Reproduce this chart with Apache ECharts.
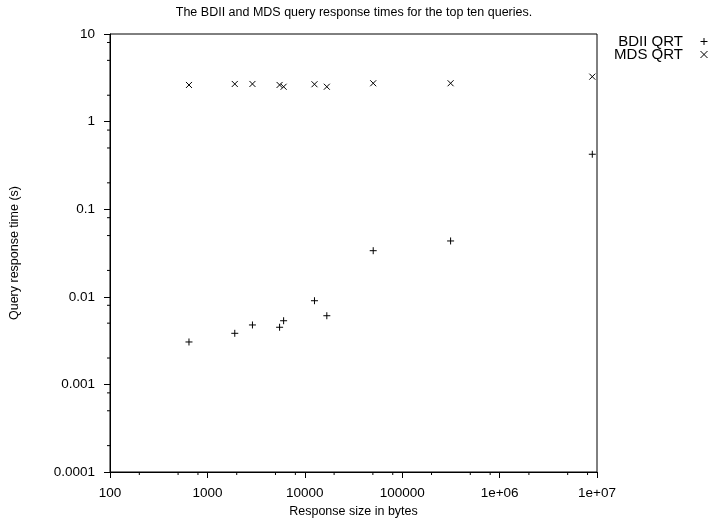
<!DOCTYPE html>
<html>
<head>
<meta charset="utf-8">
<script src="https://cdn.jsdelivr.net/npm/echarts@6/dist/echarts.min.js"></script>
<style>html,body{margin:0;padding:0;background:#fff}#c{width:719px;height:527px}</style>
</head>
<body>
<div id="c"></div>
<script>
// Data
const sizes = [647, 1910, 2900, 5510, 6060, 12570, 16830, 50400, 314000, 8950000];
const bdiiQRT = [0.00305, 0.00383, 0.00477, 0.00449, 0.00533, 0.00902, 0.00608, 0.0336, 0.0434, 0.424];
const mdsQRT = [2.62, 2.69, 2.69, 2.62, 2.50, 2.67, 2.50, 2.74, 2.74, 3.26];
const xTickLabels = {100: '100', 1000: '1000', 10000: '10000', 100000: '100000', 1000000: '1e+06', 10000000: '1e+07'};
const yTickLabels = {0.0001: '0.0001', 0.001: '0.001', 0.01: '0.01', 0.1: '0.1', 1: '1', 10: '10'};
const xMinorTicks = [200, 500, 800, 2000, 5000, 8000, 20000, 50000, 80000, 200000, 500000, 800000, 2000000, 5000000, 8000000];
const yMinorTicks = [0.0002, 0.0005, 0.0008, 0.002, 0.005, 0.008, 0.02, 0.05, 0.08, 0.2, 0.5, 0.8, 2, 5, 8];

const FONT = 'Liberation Sans';
const fmt = (map) => (v) => {
  for (const k in map) { if (Math.abs(Math.log10(v) - Math.log10(+k)) < 1e-6) return map[k]; }
  return '';
};

const chart = echarts.init(document.getElementById('c'), null, {renderer: 'canvas'});
chart.setOption({
  animation: false,
  backgroundColor: '#fff',
  textStyle: {fontFamily: FONT, color: '#000'},
  title: {
    text: 'The BDII and MDS query response times for the top ten queries.',
    left: 349, top: 1, textAlign: 'center',
    textStyle: {fontFamily: FONT, fontSize: 12.5, fontWeight: 'normal', color: '#000'}
  },
  legend: {
    orient: 'vertical', right: 6, top: 29, align: 'right',
    itemWidth: 32, itemHeight: 7, itemGap: -2,
    data: ['BDII QRT', 'MDS QRT'],
    itemStyle: {color: 'rgba(0,0,0,0)', borderColor: '#000', borderWidth: 1},
    textStyle: {fontFamily: FONT, fontSize: 15, color: '#000', lineHeight: 12}
  },
  grid: {left: 108, right: 122, top: 34, bottom: 55, show: true, borderColor: '#000', borderWidth: 1, backgroundColor: 'transparent'},
  xAxis: {
    type: 'log', logBase: 10, min: 100, max: 10000000,
    name: 'Response size in bytes', nameLocation: 'middle', nameGap: 33,
    nameTextStyle: {fontFamily: FONT, fontSize: 12.5, color: '#000'},
    axisLine: {lineStyle: {color: '#000', width: 1}},
    axisTick: {inside: false, length: 6, lineStyle: {color: '#000'}},
    axisLabel: {fontFamily: FONT, fontSize: 13.5, color: '#000', margin: 14, formatter: fmt(xTickLabels)},
    splitLine: {show: false}
  },
  yAxis: {
    type: 'log', logBase: 10, min: 0.0001, max: 10,
    name: 'Query response time (s)', nameLocation: 'middle', nameGap: 89,
    nameTextStyle: {fontFamily: FONT, fontSize: 12.5, color: '#000'},
    axisLine: {lineStyle: {color: '#000', width: 1}},
    axisTick: {inside: false, length: 6, lineStyle: {color: '#000'}},
    axisLabel: {fontFamily: FONT, fontSize: 13.5, color: '#000', margin: 15, formatter: fmt(yTickLabels)},
    splitLine: {show: false}
  },
  series: [
    {
      name: 'BDII QRT', type: 'scatter',
      symbol: 'path://M0,5L10,5M5,0L5,10', symbolSize: 7,
      itemStyle: {color: 'rgba(0,0,0,0)', borderColor: '#000', borderWidth: 1, opacity: 1},
      data: sizes.map((s, i) => [s, bdiiQRT[i]])
    },
    {
      name: 'MDS QRT', type: 'scatter',
      symbol: 'path://M0,0L10,10M10,0L0,10', symbolSize: 6,
      itemStyle: {color: 'rgba(0,0,0,0)', borderColor: '#000', borderWidth: 1, opacity: 1},
      data: sizes.map((s, i) => [s, mdsQRT[i]])
    },
    {
      name: 'xminor', type: 'custom', clip: false, silent: true,
      data: xMinorTicks.map(v => [v, 0.0001]),
      renderItem: (params, api) => {
        const p = api.coord([api.value(0), api.value(1)]);
        return {type: 'line', shape: {x1: p[0], y1: p[1], x2: p[0], y2: p[1] + 3}, style: {stroke: '#000', lineWidth: 1}};
      }
    },
    {
      name: 'yminor', type: 'custom', clip: false, silent: true,
      data: yMinorTicks.map(v => [100, v]),
      renderItem: (params, api) => {
        const p = api.coord([api.value(0), api.value(1)]);
        return {type: 'line', shape: {x1: p[0], y1: p[1], x2: p[0] - 3, y2: p[1]}, style: {stroke: '#000', lineWidth: 1}};
      }
    }
  ]
});
</script>
</body>
</html>
